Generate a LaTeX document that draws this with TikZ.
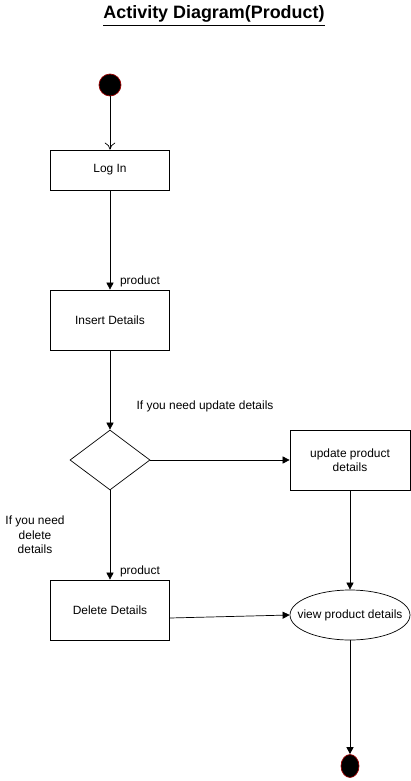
\documentclass[tikz,border=0pt]{standalone}
\usepackage{fontspec}
\setmainfont{Liberation Sans}
\usetikzlibrary{shapes.geometric,arrows.meta}
\begin{document}
\begin{tikzpicture}[x=0.02cm, y=-0.02cm, font=\fontsize{6.8}{8.2}\selectfont,
	box/.style={draw, minimum width=2.38cm, minimum height=1.2cm, align=center, inner sep=0pt},
	flow/.style={-{Triangle[length=4pt,width=4pt]}}]
	\useasboundingbox (0,0) rectangle (411,781);
	\node (title) at (214,16) {\fontsize{10.2}{12}\selectfont\bfseries\underline{Activity Diagram(Product)}};
	\node[circle, draw=red!60!black, fill=black, minimum size=0.44cm, inner sep=0pt] (start) at (110,85) {};
	\node[box, minimum height=0.8cm] (login) at (110,170) {Log In};
	\node[box] (insert) at (110,320) {Insert Details};
	\node[diamond, draw, minimum width=1.6cm, minimum height=1.2cm, inner sep=0pt] (choice) at (110,460) {};
	\node[box, minimum width=2.4cm] (update) at (350,460) {update product\\details};
	\node[box] (delete) at (110,610) {Delete Details};
	\node[ellipse, draw, minimum width=2.4cm, minimum height=1cm, inner xsep=-0.25cm, inner ysep=0pt] (view) at (350,615) {view product details};
	\node[ellipse, draw=red!60!black, fill=black, minimum width=0.36cm, minimum height=0.46cm, inner sep=0pt] (stop) at (350,766) {};
	\draw[-{To[length=4pt,width=6pt]}] (start) -- (login);
	\draw[flow] (login) -- (insert);
	\draw[flow] (insert) -- (choice);
	\draw[flow] (choice) -- (update);
	\draw[flow] (choice) -- (delete);
	\draw[flow] (update) -- (view);
	\draw[flow] (delete.east |- 0,618) -- (view.west);
	\draw[flow] (view) -- (stop);
	\node (lbl1) at (140,281) {product};
	\node (lbl2) at (205,406) {If you need update details};
	\node (lbl3) at (140,571) {product};
	\node[align=center] (lbl4) at (35,535) {If you need\\delete\\details};
\end{tikzpicture}
\end{document}
